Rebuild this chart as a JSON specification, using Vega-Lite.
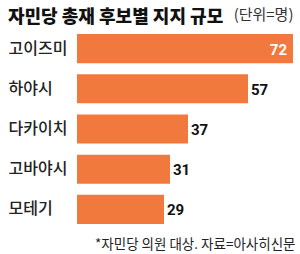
{
  "$schema": "https://vega.github.io/schema/vega-lite/v6.json",
  "width": 216,
  "height": 201,
  "autosize": {"type": "none"},
  "padding": {"left": 77, "top": 28.5, "right": 7, "bottom": 24.5},
  "background": "white",
  "title": {
    "text": "자민당 총재 후보별 지지 규모",
    "anchor": "start",
    "frame": "bounds",
    "font": "Noto Sans CJK KR",
    "fontSize": 18,
    "fontWeight": 900,
    "color": "#111111",
    "offset": 6,
    "dy": 25
  },
  "config": {
    "view": {"stroke": null},
    "font": "Noto Sans CJK KR"
  },
  "data": {
    "values": [
      {"name": "고이즈미", "value": 72},
      {"name": "하야시", "value": 57},
      {"name": "다카이치", "value": 37},
      {"name": "고바야시", "value": 31},
      {"name": "모테기", "value": 29}
    ]
  },
  "encoding": {
    "y": {
      "field": "name",
      "type": "nominal",
      "sort": null,
      "scale": {"paddingInner": 0.275, "paddingOuter": 0.1375},
      "axis": {
        "title": "(단위=명)",
        "titleAngle": 0,
        "titleAlign": "right",
        "titleBaseline": "alphabetic",
        "titleX": 216,
        "titleY": -9,
        "titleFont": "Noto Sans CJK KR",
        "titleFontSize": 15,
        "titleFontWeight": "normal",
        "titleColor": "#333333",
        "domain": false,
        "ticks": false,
        "labelAlign": "left",
        "labelPadding": 69,
        "labelFont": "Noto Sans CJK KR",
        "labelFontSize": 16,
        "labelFontWeight": 500,
        "labelColor": "#222222",
        "labelBaseline": "middle"
      }
    },
    "x": {
      "field": "value",
      "type": "quantitative",
      "scale": {"domain": [0, 72], "nice": false},
      "axis": {
        "title": "*자민당 의원 대상. 자료=아사히신문",
        "titleAnchor": "end",
        "titleAlign": "right",
        "titleBaseline": "alphabetic",
        "titleX": 218,
        "titleY": 18.5,
        "titleFont": "Noto Sans CJK KR",
        "titleFontSize": 13.5,
        "titleFontWeight": "normal",
        "titleColor": "#222222",
        "domain": false,
        "ticks": false,
        "labels": false,
        "grid": false
      }
    }
  },
  "layer": [
    {"mark": {"type": "bar", "color": "#F2793D"}},
    {
      "transform": [{"filter": "datum.value >= 60"}],
      "mark": {"type": "text", "align": "right", "baseline": "middle", "dx": -6, "dy": 1, "font": "Roboto", "fontWeight": "bold", "fontSize": 15, "color": "white"},
      "encoding": {"text": {"field": "value", "type": "quantitative"}}
    },
    {
      "transform": [{"filter": "datum.value < 60"}],
      "mark": {"type": "text", "align": "left", "baseline": "middle", "dx": 3, "dy": 1, "font": "Roboto", "fontWeight": "bold", "fontSize": 15, "color": "#111111"},
      "encoding": {"text": {"field": "value", "type": "quantitative"}}
    }
  ]
}
